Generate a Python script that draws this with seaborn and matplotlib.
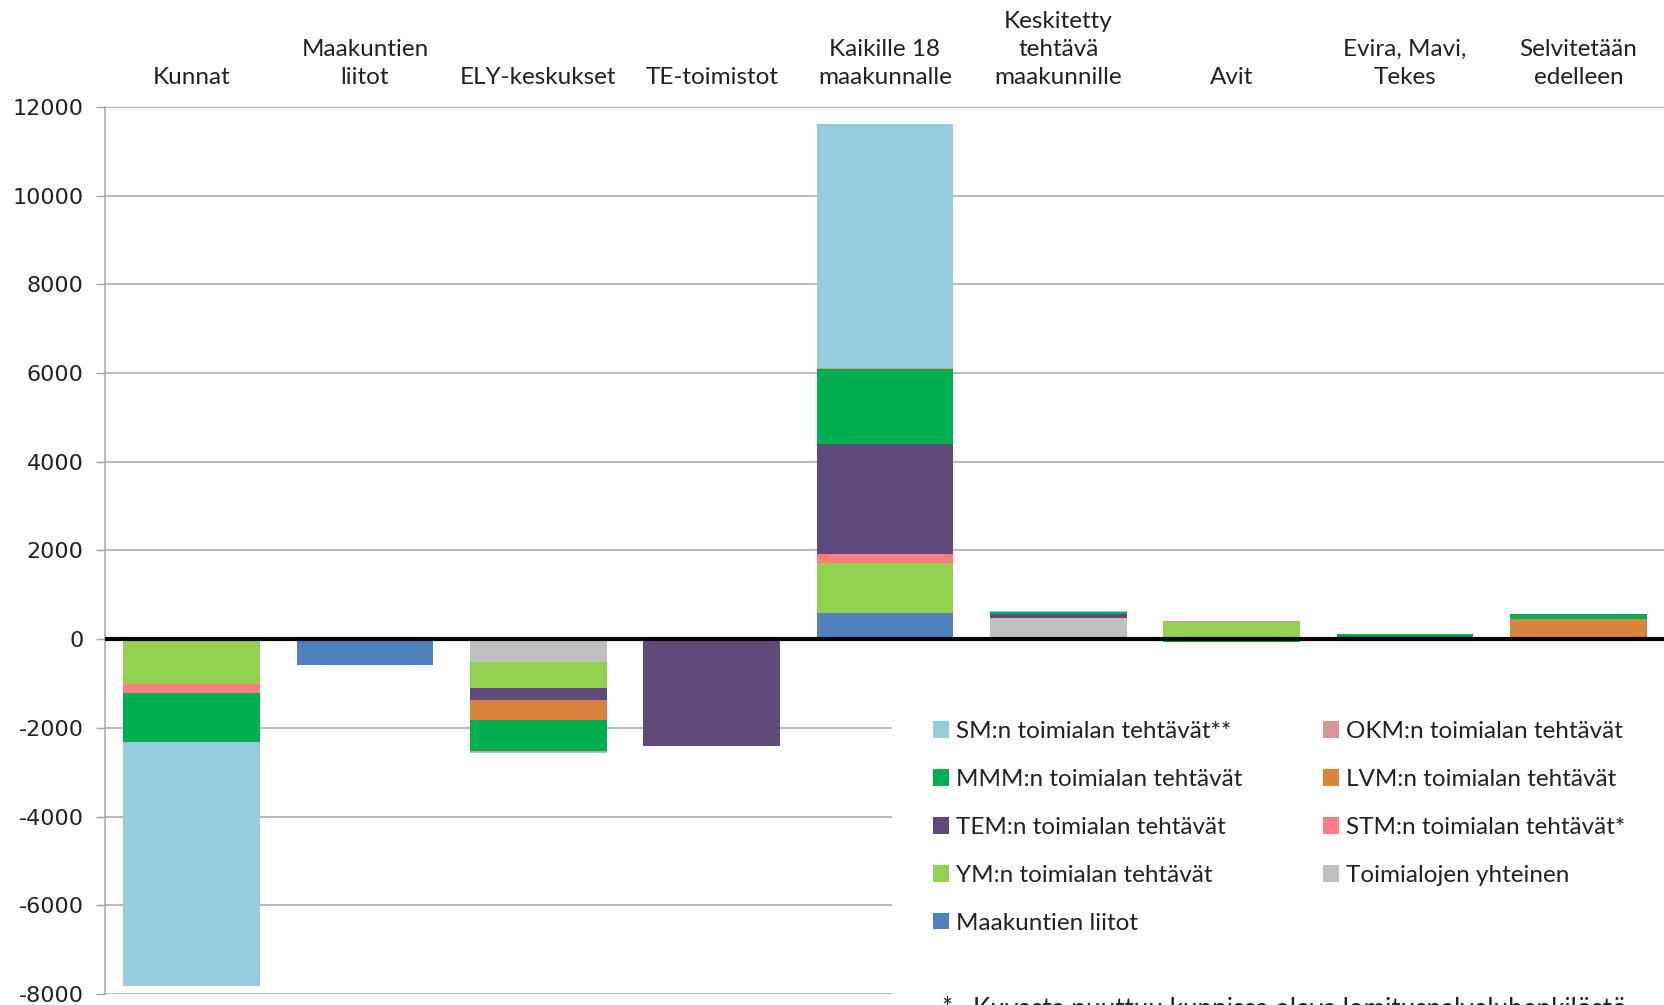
import matplotlib
matplotlib.use("Agg")
import matplotlib.pyplot as plt
from matplotlib.patches import Rectangle, Patch
import seaborn as sns
import pandas as pd
import numpy as np

categories = ["Kunnat", "Maakuntien\nliitot", "ELY-keskukset", "TE-toimistot",
              "Kaikille 18\nmaakunnalle", "Keskitetty\ntehtävä\nmaakunnille",
              "Avit", "Evira, Mavi,\nTekes", "Selvitetään\nedelleen"]

# series in stacking order (first = nearest zero)
series_names = ["Maakuntien liitot", "Toimialojen yhteinen", "YM:n toimialan tehtävät",
                "STM:n toimialan tehtävät*", "TEM:n toimialan tehtävät",
                "LVM:n toimialan tehtävät", "MMM:n toimialan tehtävät",
                "OKM:n toimialan tehtävät", "SM:n toimialan tehtävät**"]

maakuntien_liitot = [0, -590, 0, 0, 600, 0, 0, 0, 0]
toimialojen_yhteinen = [0, 0, -520, 0, 0, 470, 0, 0, 0]
ym = [-1010, 0, -570, 0, 1110, 0, 390, 0, 0]
stm = [-200, 0, 0, 0, 200, 0, 0, 0, 0]
tem = [0, 0, -285, -2400, 2500, 100, 0, 80, 0]
lvm = [0, 0, -445, 0, 0, 0, 0, 0, 460]
mmm = [-1110, 0, -700, 0, 1680, 45, -70, 35, 110]
okm = [0, 0, -20, 0, 20, 0, 10, 0, 0]
sm = [-5500, 0, -20, 0, 5500, 30, 0, 0, 0]

series_values = [maakuntien_liitot, toimialojen_yhteinen, ym, stm, tem, lvm, mmm, okm, sm]
series_colors = ["#4F81BD", "#BFBFBF", "#92D050", "#FF7C80", "#604A7B",
                 "#DB843D", "#00B050", "#D99694", "#93CDDD"]

yticks = [-8000, -6000, -4000, -2000, 0, 2000, 4000, 6000, 8000, 10000, 12000]

sns.set_theme(style="white")
narrow = ["Lato", "DejaVu Sans"]
plt.rcParams["font.family"] = ["DejaVu Sans"]

W, H = 1665, 1005
fig = plt.figure(figsize=(W / 100, H / 100), dpi=100)
ax = fig.add_axes([105 / W, 1 - 994 / H, 1 - 105 / W, (994 - 107) / H])

vals = np.array(series_values, dtype=float)
pos_cum = np.cumsum(np.clip(vals, 0, None), axis=0)
neg_cum = np.cumsum(np.clip(vals, None, 0), axis=0)

for k in range(len(series_names) - 1, -1, -1):
    df = pd.DataFrame({"cat": categories, "pos": pos_cum[k], "neg": neg_cum[k]})
    for col in ("pos", "neg"):
        sns.barplot(data=df, x="cat", y=col, order=categories, color=series_colors[k],
                    saturation=1, width=0.79, errorbar=None, linewidth=0, ax=ax,
                    zorder=2)

ax.set_xlabel("")
ax.set_ylabel("")
ax.set_xlim(-0.5, len(categories) - 0.5)
ax.set_ylim(-8000, 12000)
ax.set_yticks(yticks)
ax.set_yticklabels([str(t) for t in yticks], fontsize=16, color="#222222")
ax.yaxis.grid(True, color="#A6A6A6", linewidth=1.1, zorder=0)
ax.set_axisbelow(True)
ax.tick_params(axis="y", which="both", left=True, length=6.5, width=1,
               color="#A6A6A6", pad=9)

ax.xaxis.tick_top()
ax.set_xticks(range(len(categories)))
ax.set_xticklabels(categories, fontsize=17.5, family=narrow, linespacing=1.4,
                   color="#222222", ha="center")
ax.tick_params(axis="x", top=False, bottom=False, pad=8)

for s in ["top", "right", "bottom"]:
    ax.spines[s].set_visible(False)
ax.spines["left"].set_color("#A6A6A6")
ax.spines["left"].set_linewidth(1.1)

ax.axhline(0, color="black", linewidth=3, zorder=4)

# white legend area
ax.add_patch(Rectangle((892 / W, 0), 1 - 892 / W, (1005 - 668) / H,
                       transform=fig.transFigure, facecolor="white",
                       edgecolor="none", zorder=5, clip_on=False))

legend_order = [8, 6, 4, 2, 0, 7, 5, 3, 1]
handles = [Patch(facecolor=series_colors[i], edgecolor="none") for i in legend_order]
labels = [series_names[i] for i in legend_order]
leg = fig.legend(handles, labels, loc="upper left",
                 bbox_to_anchor=(933 / W, 1 - 721 / H), ncol=2, frameon=False,
                 prop={"family": narrow, "size": 17.5}, handlelength=0.65,
                 handleheight=0.65, handletextpad=0.3, columnspacing=3.33,
                 labelspacing=1.11, borderpad=0, borderaxespad=0)
leg.set_zorder(6)
for t in leg.get_texts():
    t.set_color("#222222")

fig.text(942 / W, 1 - 996 / H,
         "*   Kuvasta puuttuu kunnissa oleva lomituspalveluhenkilöstö",
         family=narrow, fontsize=18.7, color="#222222", va="top", ha="left",
         zorder=7)

fig.savefig("out.png", dpi=100)
